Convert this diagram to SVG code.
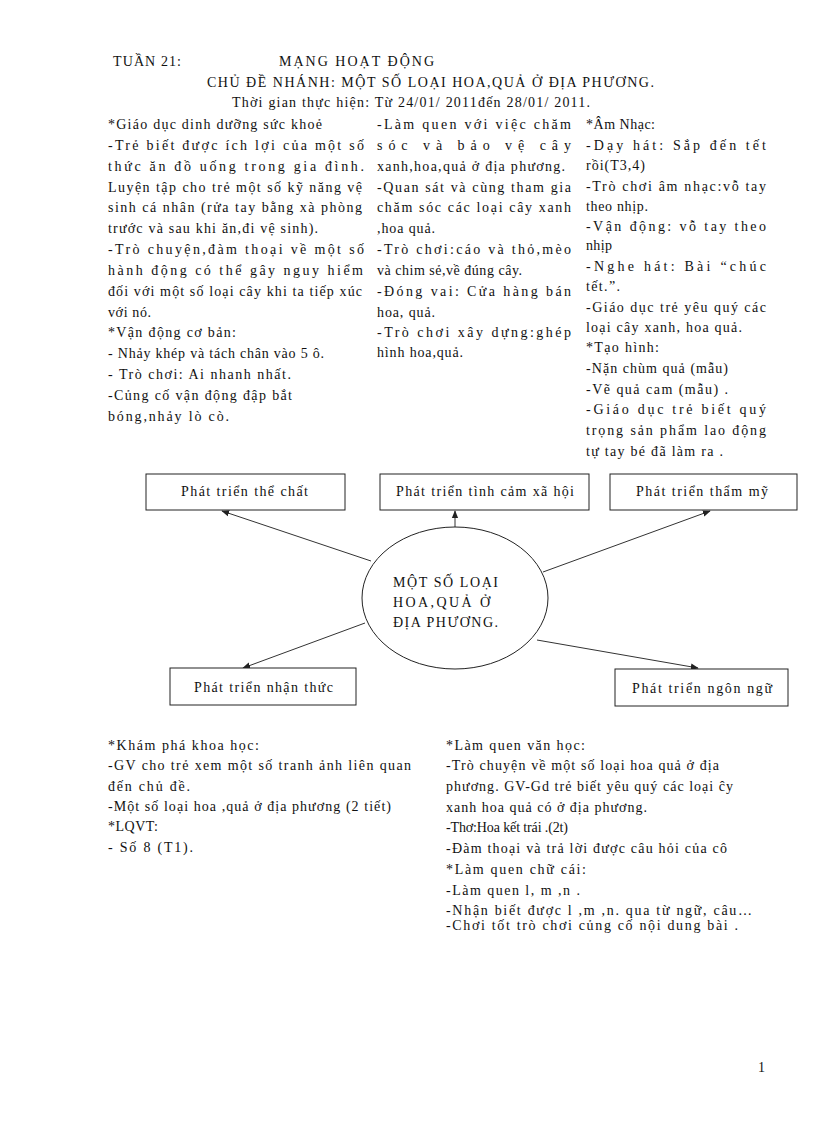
<svg xmlns="http://www.w3.org/2000/svg" width="816" height="1123" viewBox="0 0 816 1123">
<style>
text{font-family:"Liberation Serif","Times New Roman",serif;font-size:14px;fill:#111;}
.box{fill:#fff;stroke:#222;stroke-width:1;}
.ell{fill:#fff;stroke:#222;stroke-width:1;}
.con{stroke:#333;stroke-width:1;fill:none;marker-end:url(#arr);}
</style>
<defs>
<marker id="arr" viewBox="0 0 10 10" refX="9" refY="5" markerWidth="8" markerHeight="8" orient="auto" markerUnits="userSpaceOnUse">
<path d="M0,1 L10,5 L0,9 z" fill="#222"/>
</marker>
</defs>
<rect width="816" height="1123" fill="#fff"/>
<g id="header">
<text x="113" y="66" textLength="68">TUẦN 21:</text>
<text x="279" y="66" textLength="155">MẠNG HOẠT ĐỘNG</text>
<text x="207" y="87" textLength="447">CHỦ ĐỀ NHÁNH: MỘT SỐ LOẠI HOA,QUẢ Ở ĐỊA PHƯƠNG.</text>
<text x="232" y="107" textLength="358">Thời gian thực hiện: Từ 24/01/ 2011đến 28/01/ 2011.</text>
</g>
<g id="col-left">
<text x="108" y="129" textLength="214">*Giáo dục dinh dưỡng sức khoẻ</text>
<text x="108" y="150" textLength="256">-Trẻ biết được ích lợi của một số</text>
<text x="108" y="171" textLength="256">thức ăn đồ uống trong gia đình.</text>
<text x="108" y="192" textLength="254">Luyện tập cho trẻ một số kỹ năng vệ</text>
<text x="108" y="212" textLength="254">sinh cá nhân (rửa tay bằng xà phòng</text>
<text x="108" y="233" textLength="210">trước và sau khi ăn,đi vệ sinh).</text>
<text x="108" y="254" textLength="256">-Trò chuyện,đàm thoại về một số</text>
<text x="108" y="275" textLength="255">hành động có thể gây nguy  hiểm</text>
<text x="108" y="296" textLength="254">đối với một số loại cây khi ta tiếp xúc</text>
<text x="108" y="317" textLength="43">với nó.</text>
<text x="108" y="337" textLength="128">*Vận động cơ bản:</text>
<text x="108" y="358" textLength="216">- Nhảy khép và tách chân vào 5 ô.</text>
<text x="108" y="379" textLength="183">- Trò chơi:   Ai nhanh nhất.</text>
<text x="108" y="400" textLength="184">-Củng cố vận động đập bắt</text>
<text x="108" y="421" textLength="121">bóng,nhảy  lò cò.</text>
</g>
<g id="col-middle">
<text x="377" y="129" textLength="194">-Làm quen với việc chăm</text>
<text x="377" y="150" textLength="194">sóc và bảo vệ cây</text>
<text x="377" y="171" textLength="188">xanh,hoa,quả ở địa phương.</text>
<text x="377" y="192" textLength="194">-Quan sát và cùng tham gia</text>
<text x="377" y="212" textLength="194">chăm sóc các loại cây xanh</text>
<text x="377" y="233" textLength="58">,hoa quả.</text>
<text x="377" y="254" textLength="194">-Trò chơi:cáo và thỏ,mèo</text>
<text x="377" y="275" textLength="145">và chim sẻ,về đúng cây.</text>
<text x="377" y="296" textLength="194">-Đóng vai: Cửa hàng bán</text>
<text x="377" y="317" textLength="58">hoa, quả.</text>
<text x="377" y="337" textLength="194">-Trò chơi xây dựng:ghép</text>
<text x="377" y="357" textLength="86">hình hoa,quả.</text>
</g>
<g id="col-right">
<text x="586" y="129" textLength="69">*Âm Nhạc:</text>
<text x="586" y="150" textLength="180">-Dạy hát: Sắp đến tết</text>
<text x="586" y="170" textLength="59">rồi(T3,4)</text>
<text x="586" y="191" textLength="180">-Trò chơi âm nhạc:vỗ tay</text>
<text x="586" y="211" textLength="62">theo nhịp.</text>
<text x="586" y="231" textLength="180">-Vận động: vỗ tay theo</text>
<text x="586" y="250" textLength="26">nhịp</text>
<text x="586" y="271" textLength="180">-Nghe hát: Bài “chúc</text>
<text x="586" y="291" textLength="34">tết.”.</text>
<text x="586" y="312" textLength="180">-Giáo dục trẻ yêu quý các</text>
<text x="586" y="332" textLength="156">loại cây xanh, hoa quả.</text>
<text x="586" y="352" textLength="73">*Tạo hình:</text>
<text x="586" y="373" textLength="142">-Nặn chùm quả (mẫu)</text>
<text x="586" y="394" textLength="142">-Vẽ  quả cam (mẫu) .</text>
<text x="586" y="414" textLength="180">-Giáo dục trẻ biết quý</text>
<text x="586" y="435" textLength="180">trọng sản phẩm lao động</text>
<text x="586" y="456" textLength="137">tự tay bé đã làm ra .</text>
</g>
<g id="connectors">
<line class="con" x1="371" y1="561" x2="222" y2="511"/>
<line class="con" x1="455" y1="527" x2="455" y2="511"/>
<line class="con" x1="543" y1="572" x2="710" y2="511"/>
<line class="con" x1="365" y1="623" x2="243" y2="668"/>
<line class="con" x1="537" y1="640" x2="698" y2="668"/>
</g>
<g id="node-the-chat">
<rect class="box" x="146" y="474" width="199" height="36"/>
<text x="181" y="496" textLength="127">Phát triển thể chất</text>
</g>
<g id="node-tinh-cam">
<rect class="box" x="380" y="474" width="209" height="36"/>
<text x="396" y="496" textLength="178">Phát triển tình cảm xã  hội</text>
</g>
<g id="node-tham-my">
<rect class="box" x="610" y="474" width="187" height="36"/>
<text x="636" y="496" textLength="132">Phát triển thẩm mỹ</text>
</g>
<g id="node-center">
<ellipse class="ell" cx="455" cy="598" rx="93" ry="71"/>
<text x="393" y="587" textLength="105">MỘT SỐ LOẠI</text>
<text x="393" y="607" textLength="97">HOA,QUẢ Ở</text>
<text x="393" y="627" textLength="105">ĐỊA PHƯƠNG.</text>
</g>
<g id="node-nhan-thuc">
<rect class="box" x="170" y="668" width="186" height="37"/>
<text x="194" y="692" textLength="139">Phát triển nhận thức</text>
</g>
<g id="node-ngon-ngu">
<rect class="box" x="615" y="669" width="173" height="37"/>
<text x="632" y="693" textLength="140">Phát triển ngôn ngữ</text>
</g>
<g id="bottom-left">
<text x="108" y="750" textLength="151">*Khám phá khoa học:</text>
<text x="108" y="770" textLength="303">-GV cho trẻ xem một số tranh ảnh liên quan</text>
<text x="108" y="791" textLength="82">đến chủ đề.</text>
<text x="108" y="811" textLength="283">-Một số loại hoa ,quả ở địa phương  (2 tiết)</text>
<text x="108" y="831" textLength="50">*LQVT:</text>
<text x="108" y="852" textLength="85">- Số  8 (T1).</text>
</g>
<g id="bottom-right">
<text x="446" y="750" textLength="139">*Làm quen văn học:</text>
<text x="446" y="770" textLength="273">-Trò chuyện về một số loại hoa quả ở địa</text>
<text x="446" y="791" textLength="287">phương.  GV-Gd trẻ biết yêu quý các loại ĉy</text>
<text x="446" y="812" textLength="201">xanh hoa quả có ở địa phương.</text>
<text x="446" y="832" textLength="122">-Thơ:Hoa kết trái .(2t)</text>
<text x="446" y="853" textLength="281">-Đàm thoại và trả lời được câu hỏi của cô</text>
<text x="446" y="874" textLength="140">*Làm quen chữ cái:</text>
<text x="446" y="895" textLength="134">-Làm  quen l, m ,n .</text>
<text x="446" y="915" textLength="306">-Nhận biết được l ,m ,n. qua từ ngữ, câu…</text>
<text x="446" y="930" textLength="292">-Chơi tốt trò chơi củng cố nội dung bài .</text>
</g>
<g id="page-number">
<text x="758" y="1072">1</text>
</g>
</svg>
